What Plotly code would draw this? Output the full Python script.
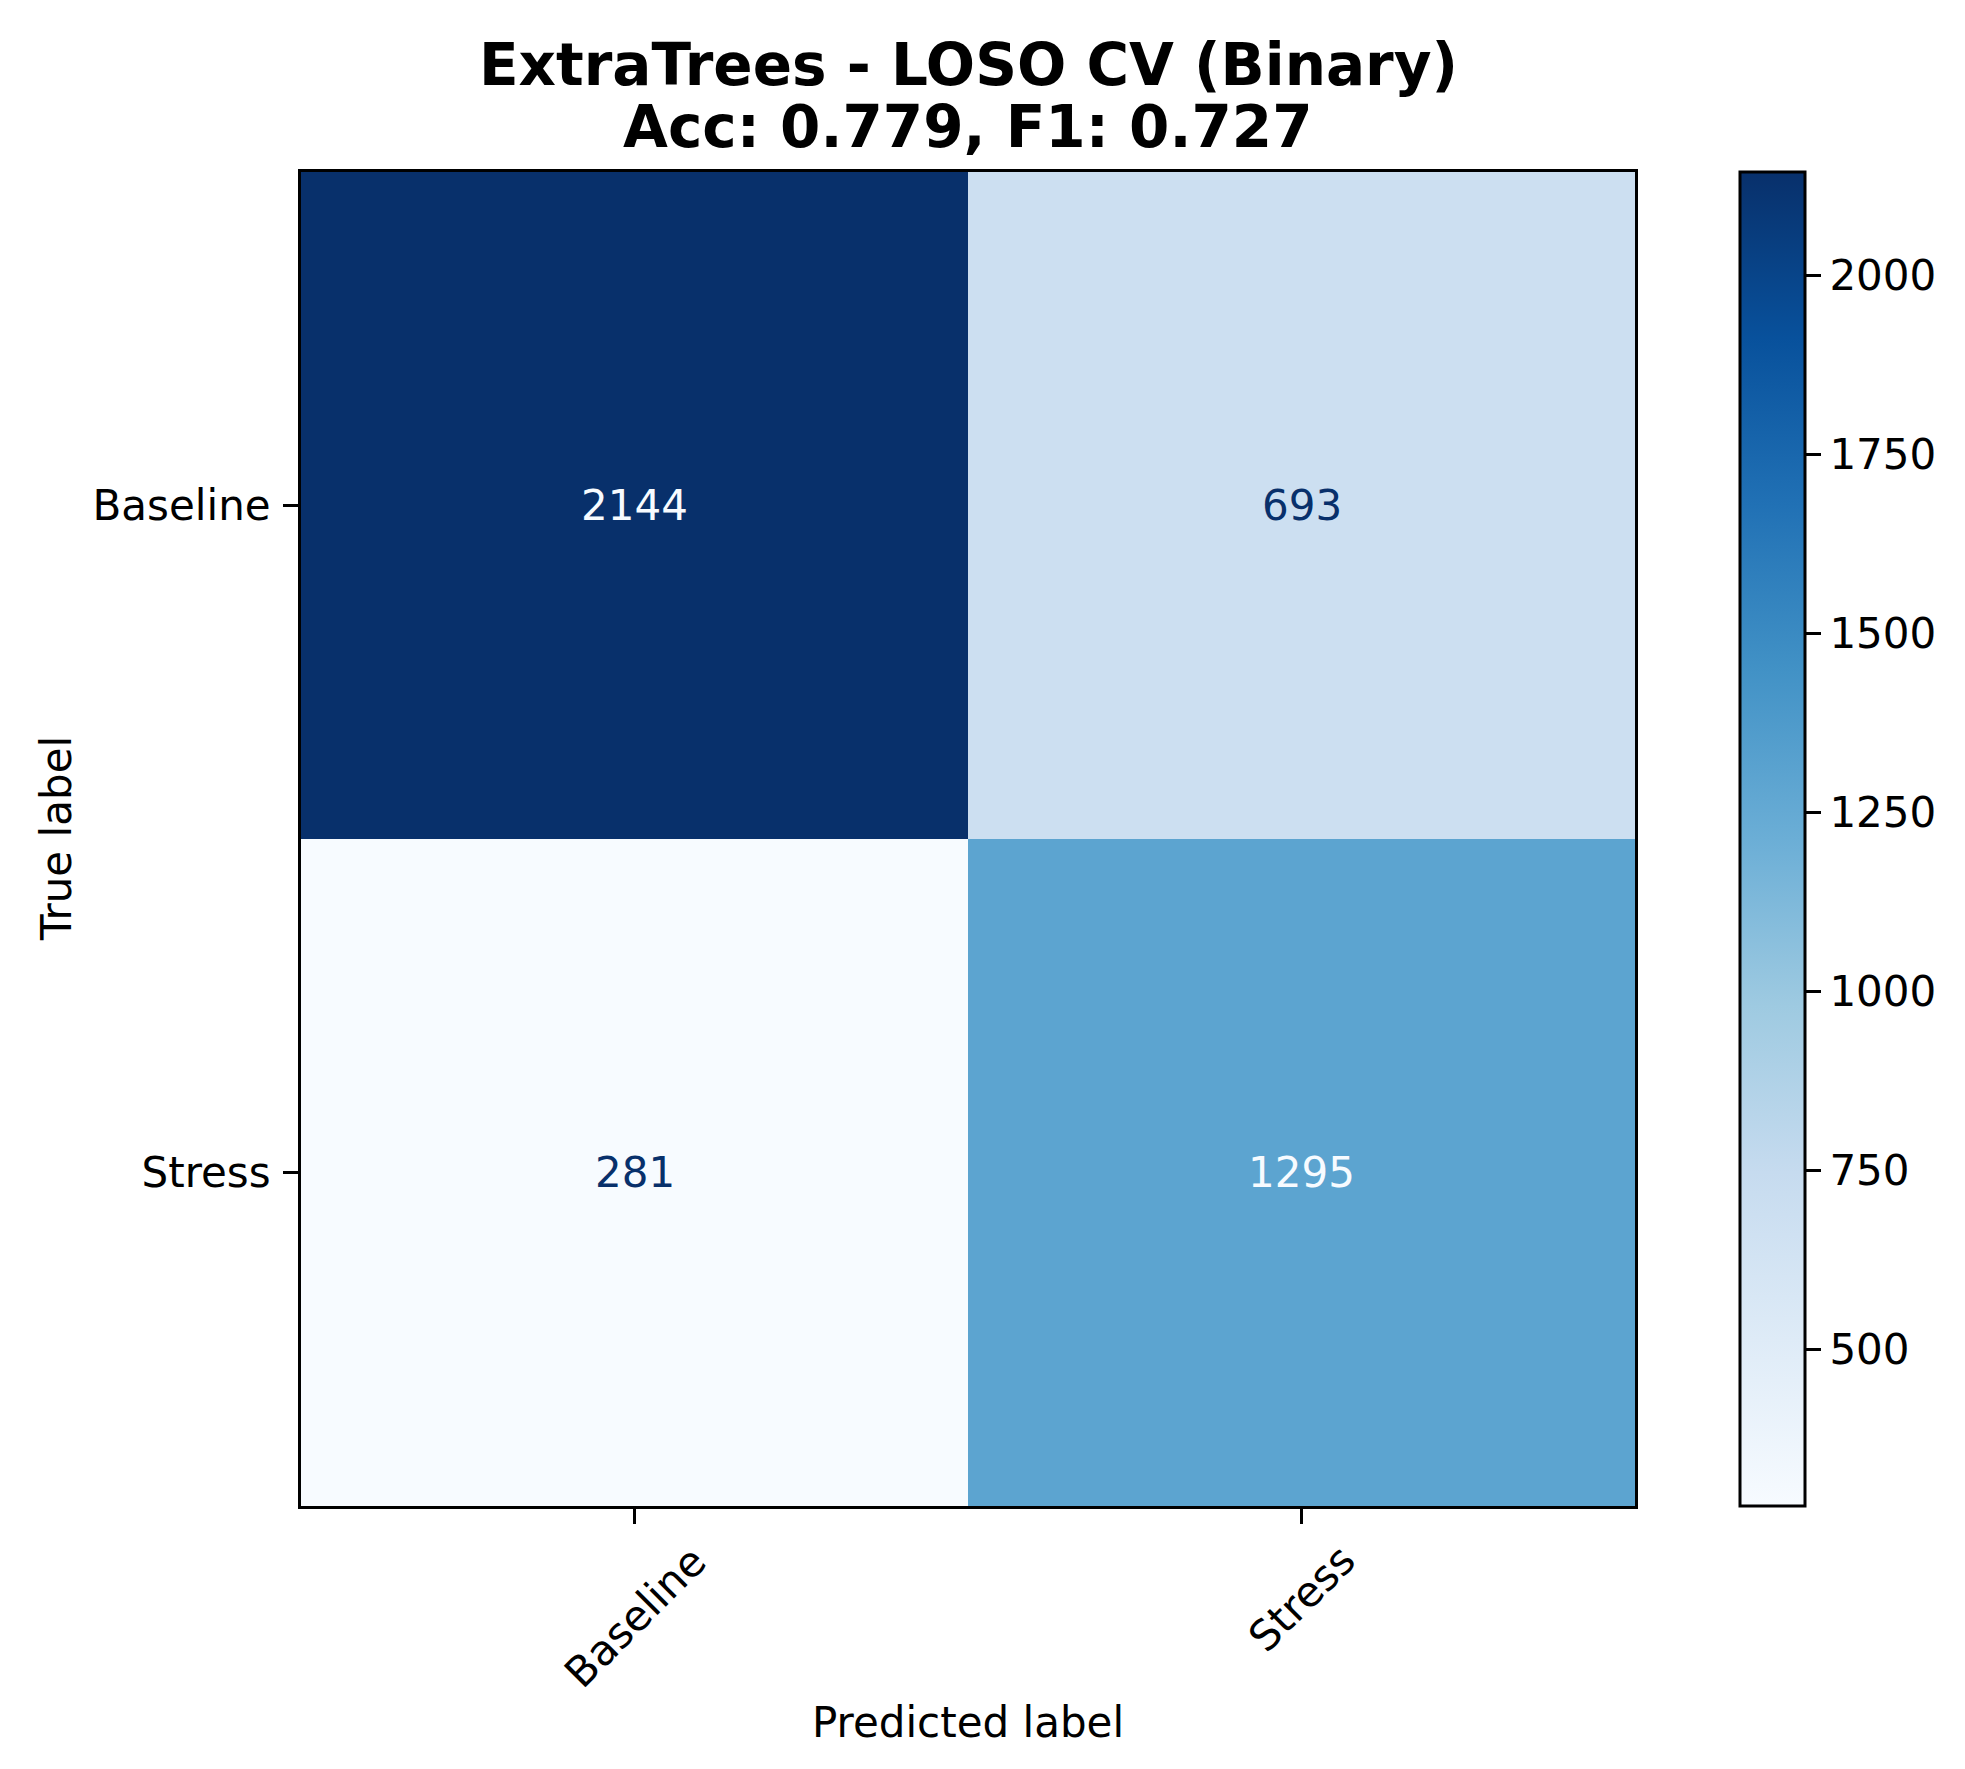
import plotly.graph_objects as go

# ---- data ----
class_labels = ["Baseline", "Stress"]
row_baseline = [2144, 693]
row_stress = [281, 1295]
title_line1 = "ExtraTrees - LOSO CV (Binary)"
title_line2 = "Acc: 0.779, F1: 0.727"
cbar_ticks = [500, 750, 1000, 1250, 1500, 1750, 2000]

z = [row_baseline, row_stress]
zmin = min(min(r) for r in z)
zmax = max(max(r) for r in z)

blues = ["#f7fbff", "#deebf7", "#c6dbef", "#9ecae1", "#6baed6",
         "#4292c6", "#2171b5", "#08519c", "#08306b"]
colorscale = [[i / (len(blues) - 1), c] for i, c in enumerate(blues)]

W, H = 1965, 1769
L, R, T, B = 293, 1627, 164, 1498
FONT = "DejaVu Sans"

fig = go.Figure()
fig.add_trace(go.Heatmap(
    z=z, x=class_labels, y=class_labels,
    colorscale=colorscale, zmin=zmin, zmax=zmax,
    showscale=True, hoverinfo="skip",
    colorbar=dict(
        x=(1732 - L) / (R - L), xanchor="left", xref="paper",
        y=0.5, yanchor="middle", len=1.0, lenmode="fraction",
        thickness=65, outlinewidth=3, outlinecolor="black",
        xpad=0, ypad=0,
        tickmode="array", tickvals=cbar_ticks,
        ticks="outside", ticklen=15, tickwidth=3, tickcolor="black",
        tickfont=dict(family=FONT, size=42, color="black"),
    ),
))

thresh = (zmax + zmin) / 2.0
annotations = []
for i, rlab in enumerate(class_labels):
    for j, clab in enumerate(class_labels):
        v = z[i][j]
        col = blues[0] if v > thresh else blues[-1]
        annotations.append(dict(
            x=clab, y=rlab, xref="x", yref="y", text=str(v), showarrow=False,
            font=dict(family=FONT, size=42, color=col),
            xanchor="center", yanchor="middle",
        ))

# rotated x tick labels (centered under ticks)
xshift_centers = {"Baseline": -111, "Stress": -92}
for lab in class_labels:
    annotations.append(dict(
        x=lab, y=0, xref="x", yref="paper", text=lab, showarrow=False,
        textangle=-45, xanchor="center", yanchor="middle",
        yshift=xshift_centers[lab],
        font=dict(family=FONT, size=42, color="black"),
    ))

# axis titles
annotations.append(dict(
    x=0.5, y=0, xref="paper", yref="paper", text="Predicted label",
    showarrow=False, xanchor="center", yanchor="middle", yshift=-216,
    font=dict(family=FONT, size=42, color="black"),
))
annotations.append(dict(
    x=0, y=0.5, xref="paper", yref="paper", text="True label",
    showarrow=False, textangle=-90, xanchor="center", yanchor="middle",
    xshift=-245,
    font=dict(family=FONT, size=42, color="black"),
))

# title lines
annotations.append(dict(
    x=0.5, y=1, xref="paper", yref="paper", text="<b>" + title_line1 + "</b>",
    showarrow=False, xanchor="center", yanchor="middle", yshift=T - 57,
    font=dict(family=FONT, size=58, color="black"),
))
annotations.append(dict(
    x=0.5, y=1, xref="paper", yref="paper", text="<b>" + title_line2 + "</b>",
    showarrow=False, xanchor="center", yanchor="middle", yshift=T - 119,
    font=dict(family=FONT, size=58, color="black"),
))

fig.update_layout(
    width=W, height=H,
    margin=dict(l=L, r=W - R, t=T, b=H - B, pad=0),
    paper_bgcolor="white", plot_bgcolor="white",
    annotations=annotations,
    font=dict(family=FONT, size=42, color="black"),
)
fig.update_xaxes(
    showticklabels=False, ticks="outside", ticklen=15, tickwidth=3,
    tickcolor="black", showline=True, linewidth=3, linecolor="black",
    mirror=True, showgrid=False, zeroline=False, constrain="domain",
)
fig.update_yaxes(
    autorange="reversed", ticks="outside", ticklen=15, tickwidth=3,
    tickcolor="black", showline=True, linewidth=3, linecolor="black",
    mirror=True, showgrid=False, zeroline=False,
    tickfont=dict(family=FONT, size=42, color="black"),
    ticklabelstandoff=4,
)

fig.write_html("out.html")
